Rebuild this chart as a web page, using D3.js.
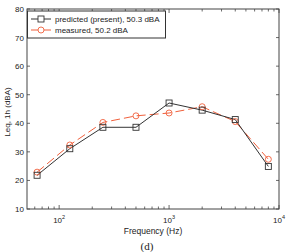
<!DOCTYPE html>
<html>
<head>
<meta charset="utf-8">
<script src="https://cdn.jsdelivr.net/npm/d3@7"></script>
<style>
  body { margin: 0; background: #fff; }
  text { font-family: "Liberation Sans", Arial, sans-serif; }
</style>
</head>
<body>
<svg id="chart" width="287" height="252"></svg>
<script>
const freqs = [63, 125, 250, 500, 1000, 2000, 4000, 8000];
const predicted = [21.8, 31.1, 38.6, 38.6, 47.1, 44.6, 41.3, 24.9];
const measured = [22.9, 32.4, 40.3, 42.6, 43.6, 45.8, 40.6, 27.4];
const yTicks = [10, 20, 30, 40, 50, 60, 70, 80];
const xMajor = [100, 1000, 10000];
const legendLabels = ["predicted (present), 50.3 dBA", "measured, 50.2 dBA"];

const margin = { top: 9, right: 8, bottom: 43, left: 27 };
const width = 287 - margin.left - margin.right;
const height = 252 - margin.top - margin.bottom;

const svg = d3.select("#chart");
const g = svg.append("g").attr("transform", `translate(${margin.left},${margin.top})`);

const x = d3.scaleLog().domain([51, 10000]).range([0, width]);
const y = d3.scaleLinear().domain([10, 80]).range([height, 0]);

// minor log ticks
const minor = [];
for (let dec = 10; dec < 10000; dec *= 10) {
  for (let k = 1; k < 10; k++) {
    const v = dec * k;
    if (v >= 51 && v <= 10000) minor.push(v);
  }
}
minor.push(10000);

const tickCol = "#444";
// bottom & top ticks
minor.forEach(v => {
  const len = xMajor.includes(v) ? 4 : 2.5;
  g.append("line").attr("x1", x(v)).attr("x2", x(v)).attr("y1", height).attr("y2", height - len).attr("stroke", tickCol).attr("stroke-width", 0.8);
  g.append("line").attr("x1", x(v)).attr("x2", x(v)).attr("y1", 0).attr("y2", len).attr("stroke", tickCol).attr("stroke-width", 0.8);
});
yTicks.forEach(v => {
  g.append("line").attr("x1", 0).attr("x2", 3).attr("y1", y(v)).attr("y2", y(v)).attr("stroke", tickCol).attr("stroke-width", 0.8);
  g.append("line").attr("x1", width).attr("x2", width - 3).attr("y1", y(v)).attr("y2", y(v)).attr("stroke", tickCol).attr("stroke-width", 0.8);
  g.append("text").attr("x", -3).attr("y", y(v) + 3).attr("text-anchor", "end").attr("font-size", 8).attr("fill", "#222").text(v);
});

// x tick labels 10^n
xMajor.forEach(v => {
  const t = g.append("text").attr("x", x(v)).attr("y", height + 14).attr("text-anchor", "middle").attr("font-size", 8).attr("fill", "#222");
  t.append("tspan").text("10");
  t.append("tspan").attr("dy", -4).attr("font-size", 5.5).text(Math.round(Math.log10(v)));
});

// frame
g.append("rect").attr("width", width).attr("height", height).attr("fill", "none").attr("stroke", "#444").attr("stroke-width", 1);

const line = d3.line().x((d, i) => x(freqs[i])).y(d => y(d));

const redCol = "#f0603c";
const blackCol = "#333";

g.append("path").datum(measured).attr("d", line).attr("fill", "none").attr("stroke", redCol).attr("stroke-width", 1).attr("stroke-dasharray", "9,4");
g.append("path").datum(predicted).attr("d", line).attr("fill", "none").attr("stroke", blackCol).attr("stroke-width", 1);

g.selectAll(".mpt").data(measured).enter().append("circle")
  .attr("cx", (d, i) => x(freqs[i])).attr("cy", d => y(d)).attr("r", 3)
  .attr("fill", "none").attr("stroke", redCol).attr("stroke-width", 0.9);
g.selectAll(".ppt").data(predicted).enter().append("rect")
  .attr("x", (d, i) => x(freqs[i]) - 3).attr("y", d => y(d) - 3).attr("width", 6).attr("height", 6)
  .attr("fill", "none").attr("stroke", blackCol).attr("stroke-width", 0.9);

// legend
const lg = g.append("g").attr("transform", "translate(0,2)");
lg.append("rect").attr("x", 0.5).attr("y", 0).attr("width", 138).attr("height", 27).attr("fill", "#fff").attr("stroke", "#333").attr("stroke-width", 1);
[0, 1].forEach(i => {
  const yy = 8 + i * 11;
  const col = i === 0 ? blackCol : redCol;
  lg.append("line").attr("x1", 4).attr("x2", 24).attr("y1", yy).attr("y2", yy).attr("stroke", col).attr("stroke-width", 1);
  if (i === 0) {
    lg.append("rect").attr("x", 11).attr("y", yy - 3).attr("width", 6).attr("height", 6).attr("fill", "#fff").attr("stroke", col).attr("stroke-width", 0.9);
  } else {
    lg.append("circle").attr("cx", 14).attr("cy", yy).attr("r", 3).attr("fill", "#fff").attr("stroke", col).attr("stroke-width", 0.9);
  }
  lg.append("text").attr("x", 28).attr("y", yy + 3).attr("font-size", 8).attr("fill", "#222").text(legendLabels[i]);
});

// axis labels
svg.append("text").attr("transform", `translate(10,${margin.top + height / 2 + 3}) rotate(-90)`)
  .attr("text-anchor", "middle").attr("font-size", 8).attr("fill", "#222").text("Leq, 1h (dBA)");
svg.append("text").attr("x", margin.left + width / 2).attr("y", 234).attr("text-anchor", "middle")
  .attr("font-size", 8.5).attr("fill", "#222").text("Frequency (Hz)");
svg.append("text").attr("x", 147).attr("y", 250).attr("text-anchor", "middle")
  .style("font-family", "'Liberation Serif', 'Times New Roman', serif").attr("font-size", 11).attr("fill", "#222").text("(d)");
</script>
</body>
</html>
